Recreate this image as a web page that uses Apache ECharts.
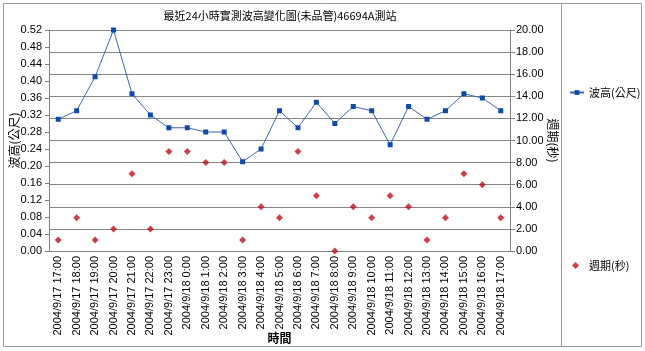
<!DOCTYPE html>
<html>
<head>
<meta charset="utf-8">
<script src="https://cdn.jsdelivr.net/npm/echarts@6/dist/echarts.min.js"></script>
<style>
  html, body { margin: 0; padding: 0; background: #fff; }
  #chart { width: 645px; height: 351px; }
</style>
</head>
<body>
<div id="chart"></div>
<script>
// 時間 (x 軸)
var times = [
    '2004/9/17 17:00', '2004/9/17 18:00', '2004/9/17 19:00', '2004/9/17 20:00',
    '2004/9/17 21:00', '2004/9/17 22:00', '2004/9/17 23:00', '2004/9/18 0:00',
    '2004/9/18 1:00', '2004/9/18 2:00', '2004/9/18 3:00', '2004/9/18 4:00',
    '2004/9/18 5:00', '2004/9/18 6:00', '2004/9/18 7:00', '2004/9/18 8:00',
    '2004/9/18 9:00', '2004/9/18 10:00', '2004/9/18 11:00', '2004/9/18 12:00',
    '2004/9/18 13:00', '2004/9/18 14:00', '2004/9/18 15:00', '2004/9/18 16:00',
    '2004/9/18 17:00'
];
// 波高(公尺)
var waveHeight = [0.31, 0.33, 0.41, 0.52, 0.37, 0.32, 0.29, 0.29, 0.28, 0.28, 0.21, 0.24,
    0.33, 0.29, 0.35, 0.30, 0.34, 0.33, 0.25, 0.34, 0.31, 0.33, 0.37, 0.36, 0.33];
// 週期(秒)
var period = [1, 3, 1, 2, 7, 2, 9, 9, 8, 8, 1, 4,
    3, 9, 5, 0, 4, 3, 5, 4, 1, 3, 7, 6, 3];

var font = 'Liberation Sans, Noto Sans CJK TC, sans-serif';
var cjk = 'Noto Sans CJK TC, sans-serif';

var myChart = echarts.init(document.getElementById('chart'));
var option = {
    animation: false,
    backgroundColor: '#fff',
    grid: { left: 49, right: 135, top: 30, bottom: 100, containLabel: false, outerBoundsMode: 'none' },
    graphic: [
        { type: 'rect', shape: { x: 3.5, y: 3.5, width: 638, height: 343 },
          style: { fill: 'none', stroke: '#9a9a9a', lineWidth: 1 }, z: -1 },
        { type: 'line', shape: { x1: 561.5, y1: 3.5, x2: 561.5, y2: 346.5 },
          style: { stroke: '#9a9a9a', lineWidth: 1 } },
        { type: 'text', x: 280, y: 16,
          style: { text: '最近24小時實測波高變化圖(未品管)46694A測站', font: '11px ' + cjk,
                   fill: '#000', textAlign: 'center', textVerticalAlign: 'middle' } }
    ],
    legend: [
        { left: 564, top: 82, itemWidth: 14, itemHeight: 6,
          textStyle: { fontFamily: cjk, fontSize: 11, color: '#000' }, data: ['波高(公尺)'] },
        { left: 567, top: 255, itemWidth: 7, itemHeight: 7,
          textStyle: { fontFamily: cjk, fontSize: 11, color: '#000', padding: [0, 0, 0, 5] },
          data: ['週期(秒)'] }
    ],
    xAxis: {
        type: 'category',
        data: times,
        boundaryGap: true,
        name: '時間',
        nameLocation: 'middle',
        nameGap: 81,
        nameMoveOverlap: false,
        nameTextStyle: { fontFamily: cjk, fontSize: 12, fontWeight: 'bold', color: '#000' },
        axisLine: { lineStyle: { color: '#808080' } },
        axisTick: { alignWithLabel: true, length: 4, lineStyle: { color: '#808080' } },
        axisLabel: { rotate: 90, interval: 0, margin: 5, fontFamily: font, fontSize: 11, color: '#000' }
    },
    yAxis: [
        {
            type: 'value', min: 0, max: 0.52, interval: 0.04,
            name: '波高(公尺)', nameLocation: 'middle', nameRotate: 90, nameGap: 29,
            nameMoveOverlap: false,
            nameTextStyle: { fontFamily: cjk, fontSize: 12, color: '#000' },
            axisLine: { show: true, lineStyle: { color: '#808080' } },
            axisTick: { show: true, length: 4, lineStyle: { color: '#808080' } },
            splitLine: { show: false },
            axisLabel: { fontFamily: font, fontSize: 11, color: '#000', margin: 7,
                formatter: function (v) { return v.toFixed(2); } }
        },
        {
            type: 'value', min: 0, max: 20, interval: 2,
            name: '週期(秒)', nameLocation: 'middle', nameRotate: -90, nameGap: 37,
            nameMoveOverlap: false,
            nameTextStyle: { fontFamily: cjk, fontSize: 12, color: '#000' },
            axisLine: { show: true, lineStyle: { color: '#808080' } },
            axisTick: { show: true, length: 5, lineStyle: { color: '#808080' } },
            splitLine: { show: true, lineStyle: { color: '#858585', width: 1 } },
            axisLabel: { fontFamily: font, fontSize: 11, color: '#000', margin: 6,
                formatter: function (v) { return v.toFixed(2); } }
        }
    ],
    series: [
        {
            name: '波高(公尺)',
            type: 'line',
            yAxisIndex: 0,
            data: waveHeight,
            symbol: 'rect',
            symbolSize: 5,
            lineStyle: { color: '#3a66b0', width: 1 },
            itemStyle: { color: '#0f4aa8' }
        },
        {
            name: '週期(秒)',
            type: 'scatter',
            yAxisIndex: 1,
            data: period,
            symbol: 'diamond',
            symbolSize: 7,
            itemStyle: { color: '#c0101a' }
        }
    ]
};
myChart.setOption(option);
</script>
</body>
</html>
